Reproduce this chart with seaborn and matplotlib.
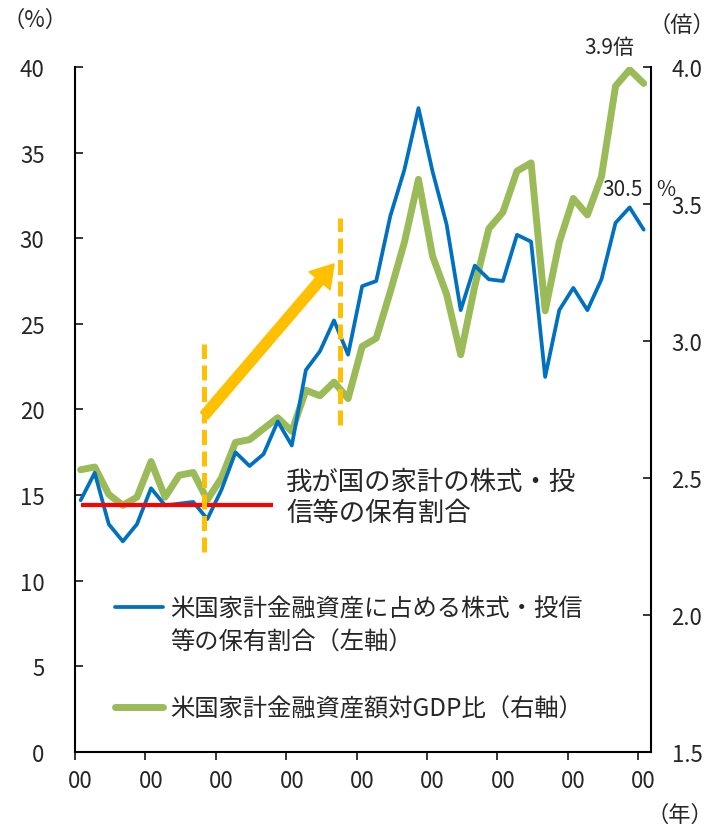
import pandas as pd
import matplotlib
matplotlib.use("Agg")
import matplotlib.pyplot as plt
import seaborn as sns
from matplotlib.lines import Line2D

# 米国家計金融資産に占める株式・投信等の保有割合（%、左軸）
share = [14.7, 16.3, 13.3, 12.3, 13.3, 15.4, 14.4, 14.5, 14.6, 13.6,
         15.3, 17.5, 16.7, 17.4, 19.3, 17.9, 22.3, 23.4, 25.2, 23.2,
         27.2, 27.5, 31.3, 34.0, 37.6, 33.9, 30.8, 25.8, 28.4, 27.6,
         27.5, 30.2, 29.8, 21.9, 25.8, 27.1, 25.8, 27.6, 30.9, 31.8, 30.5]
# 米国家計金融資産額対GDP比（倍、右軸）
gdp_ratio = [2.53, 2.54, 2.44, 2.40, 2.43, 2.56, 2.43, 2.51, 2.52, 2.42,
             2.50, 2.63, 2.64, 2.68, 2.72, 2.67, 2.82, 2.80, 2.85, 2.79,
             2.98, 3.01, 3.18, 3.36, 3.59, 3.31, 3.17, 2.95, 3.20, 3.41,
             3.47, 3.62, 3.65, 3.11, 3.36, 3.52, 3.46, 3.60, 3.93, 3.99, 3.94]
# 我が国の家計の株式・投信等の保有割合（%）
japan_share = 14.4
x_labels = ["00"] * 9

BLUE = "#0070C0"
GREEN = "#9BBB59"
ORANGE = "#FFC000"

df = pd.DataFrame({"t": range(len(share)), "share": share, "gdp": gdp_ratio})

sns.set_style("ticks")
plt.rcParams["font.family"] = ["Noto Sans CJK JP", "DejaVu Sans"]

fig = plt.figure(figsize=(7.24, 8.29), dpi=100)
ax = fig.add_axes([0.1036, 0.0917, 0.7952, 0.8263])
ax2 = ax.twinx()
ax.set_zorder(ax2.get_zorder() + 1)
ax.patch.set_visible(False)

sns.lineplot(data=df, x="t", y="gdp", ax=ax2, color=GREEN, lw=5)
sns.lineplot(data=df, x="t", y="share", ax=ax, color=BLUE, lw=2.7)

ax.set_xlim(-0.4, 40.5)
ax.set_ylim(0, 40)
ax2.set_ylim(1.5, 4.0)

# 我が国の水準
ax.hlines(japan_share, 0, 13.7, color="red", lw=3, zorder=5)

# 期間を示す点線と矢印
for xv, y0, y1 in [(8.78, 11.7, 23.8), (18.43, 19.1, 31.2)]:
    ax.plot([xv, xv], [y0, y1], color=ORANGE, lw=3.6, dashes=(3, 1.3),
            solid_capstyle="butt", zorder=6)
ax.annotate("", xy=(18.0, 28.5), xytext=(8.78, 19.64),
            arrowprops=dict(arrowstyle="simple,head_length=1.0,head_width=1.25,tail_width=0.45",
                            color=ORANGE, mutation_scale=16, shrinkA=0, shrinkB=0),
            zorder=6)

ax.text(14.6, 14.9, "我が国の家計の株式・投\n信等の保有割合", fontsize=19,
        va="center", ha="left", linespacing=1.22)

# 直近値ラベル
ax2.annotate(f"{gdp_ratio[-1]:.1f}倍", xy=(40, gdp_ratio[-1]), xytext=(-24.5, 26),
             textcoords="offset points", ha="center", va="center", fontsize=15,
             annotation_clip=False)
ax.annotate(f"{share[-1]:.1f}", xy=(40, share[-1]), xytext=(-1, 29),
            textcoords="offset points", ha="right", va="center", fontsize=15,
            annotation_clip=False)
ax.annotate("%", xy=(40, share[-1]), xytext=(9.4, 29),
            textcoords="offset points", ha="left", va="center", fontsize=15,
            annotation_clip=False)

# 目盛り
ax.set_yticks(range(0, 41, 5))
ax2.set_yticks([1.5, 2.0, 2.5, 3.0, 3.5, 4.0])
ax2.set_yticklabels([f"{v:.1f}" for v in [1.5, 2.0, 2.5, 3.0, 3.5, 4.0]])
ax.set_xticks(range(0, 41, 5))
ax.set_xticklabels(x_labels)
ax.set_xticks([p - 0.4 for p in range(0, 41, 5)], minor=True)
ax.tick_params(axis="x", which="major", length=0, pad=12, labelsize=16)
ax.tick_params(axis="x", which="minor", length=6, width=1.3, direction="out")
ax.tick_params(axis="y", direction="in", length=6, width=1.3, pad=22, labelsize=16)
ax2.tick_params(axis="y", direction="in", length=6, width=1.3, pad=15, labelsize=16)
ax.set_xlabel("")
ax.set_ylabel("")
ax2.set_ylabel("")

for a in (ax, ax2):
    a.spines["top"].set_visible(False)
    for s in ("left", "right", "bottom"):
        a.spines[s].set_linewidth(1.5)
        a.spines[s].set_color("black")
ax.spines["right"].set_visible(False)
ax2.spines["left"].set_visible(False)
ax2.spines["bottom"].set_visible(False)

# 凡例
blank = Line2D([], [], color="none")
handles = [ax.lines[0], blank, blank, ax2.lines[0]]
labels = ["米国家計金融資産に占める株式・投信", "等の保有割合（左軸）", " ",
          "米国家計金融資産額対GDP比（右軸）"]
ax.legend(handles, labels, loc="upper left", bbox_to_anchor=(0.069, 0.228),
          frameon=False, fontsize=17.5, handlelength=2.0, handletextpad=0.3,
          borderpad=0, borderaxespad=0, labelspacing=0.3)

# 単位
fig.text(3 / 724, 1 - 20 / 829, "（%）", fontsize=16, va="center", ha="left")
fig.text(648 / 724, 1 - 25 / 829, "（倍）", fontsize=16, va="center", ha="left")
fig.text(647 / 724, 1 - 815 / 829, "（年）", fontsize=16, va="center", ha="left")

fig.savefig("out.png", dpi=100)
